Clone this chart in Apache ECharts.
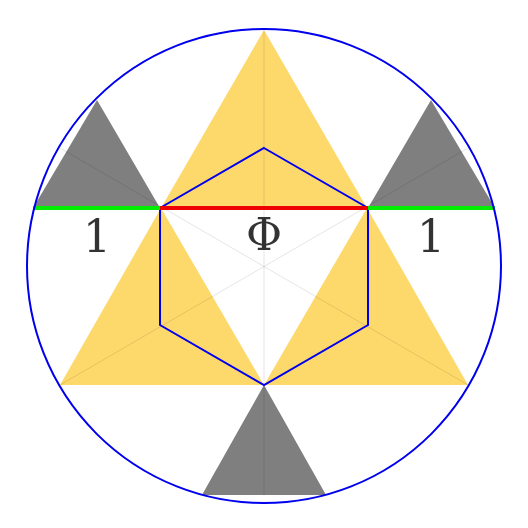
<!DOCTYPE html>
<html>
<head>
<meta charset="UTF-8" />
<script src="https://cdn.jsdelivr.net/npm/echarts@6/dist/echarts.min.js"></script>
</head>
<body style="margin:0">
<div id="main" style="width:528px;height:528px;"></div>
<script type="text/javascript">
// geometry in units, circle centre at 0,0, y up
var circleR = 237;
var yellowTris = [
    [[0, 236], [-103, 58], [103, 58]],
    [[-103, 58], [-204, -119], [0, -119]],
    [[103, 58], [0, -119], [204, -119]]
];
var grayTris = [
    [[-167, 166], [-231, 58], [-104, 58]],
    [[167, 166], [104, 58], [231, 58]],
    [[0, -119], [-62, -229], [62, -229]]
];
var hexagon = [[0, 118], [104, 58], [104, -59], [0, -119], [-104, -59], [-104, 58]];
var guideLines = [
    [[0, 236], [0, -229]],
    [[-204, -119], [204, 118]],
    [[204, -119], [-204, 118]]
];
var greenLines = [[[-231, 58], [-104, 58]], [[104, 58], [231, 58]]];
var redLine = [[-104, 58], [104, 58]];
var labels = [[-167, 25, '1'], [0, 27, 'Φ'], [167, 25, '1']];

var myChart = echarts.init(document.getElementById('main'));

function polySeries(polys, fill, stroke, width, z) {
    return {
        type: 'custom',
        coordinateSystem: 'cartesian2d',
        z: z,
        silent: true,
        data: polys.map(function (p, i) { return [i]; }),
        renderItem: function (params, api) {
            var pts = polys[params.dataIndex].map(function (v) { return api.coord(v); });
            return {
                type: 'polygon',
                shape: { points: pts },
                style: { fill: fill, stroke: stroke, lineWidth: width }
            };
        }
    };
}

function lineSeries(lines, color, width, z) {
    return {
        type: 'custom',
        z: z,
        silent: true,
        data: lines.map(function (p, i) { return [i]; }),
        renderItem: function (params, api) {
            var l = lines[params.dataIndex];
            var a = api.coord(l[0]), b = api.coord(l[1]);
            return {
                type: 'line',
                shape: { x1: a[0], y1: a[1], x2: b[0], y2: b[1] },
                style: { stroke: color, lineWidth: width }
            };
        }
    };
}

var option = {
    animation: false,
    grid: { left: 0, top: 0, width: 528, height: 528 },
    xAxis: { type: 'value', min: -264, max: 264, show: false },
    yAxis: { type: 'value', min: -262, max: 266, show: false },
    series: [
        polySeries(yellowTris, '#fdd86b', null, 0, 1),
        polySeries(grayTris, '#7f7f7f', null, 0, 2),
        lineSeries(guideLines, 'rgba(0,0,0,0.1)', 1, 3),
        polySeries([hexagon], 'none', '#0000ee', 2, 4),
        lineSeries(greenLines, '#00ee00', 4, 5),
        lineSeries([redLine], '#ee0000', 4, 6),
        {
            type: 'custom',
            z: 7,
            silent: true,
            data: [[0]],
            renderItem: function (params, api) {
                var c = api.coord([0, 0]);
                var r = api.size([circleR, 0])[0];
                return {
                    type: 'circle',
                    shape: { cx: c[0], cy: c[1], r: r },
                    style: { fill: 'none', stroke: '#0000ee', lineWidth: 2 }
                };
            }
        },
        {
            type: 'scatter',
            z: 8,
            symbolSize: 0,
            silent: true,
            data: labels,
            label: {
                show: true,
                position: 'inside',
                formatter: function (p) { return p.data[2]; },
                fontFamily: 'DejaVu Serif',
                fontSize: 44,
                color: '#000'
            }
        }
    ]
};
myChart.setOption(option);
</script>
</body>
</html>
